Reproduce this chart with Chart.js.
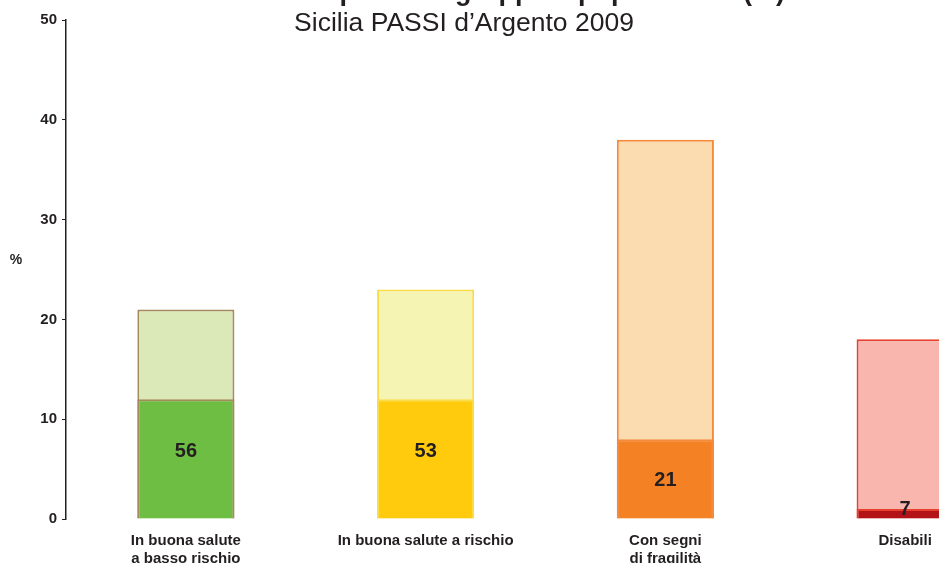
<!DOCTYPE html>
<html>
<head>
<meta charset="utf-8">
<title>Sicilia PASSI d'Argento 2009</title>
<script src="https://cdn.jsdelivr.net/npm/chart.js@4/dist/chart.umd.min.js"></script>
<style>
    html, body { margin: 0; padding: 0; background: #fff; }
    body { width: 939px; height: 563px; overflow: hidden; position: relative; }
    #wrap { position: absolute; left: 0; top: 0; width: 1040px; height: 563px; }
</style>
</head>
<body>
<div id="wrap"><canvas id="chart" width="1040" height="563"></canvas></div>
<script>
/* --- Données --- */
const categories = [
    ['In buona salute', 'a basso rischio'],
    'In buona salute a rischio',
    ['Con segni', 'di fragilità'],
    'Disabili'
];
const totalPct = [21, 23, 38, 18];     // barre claire (hauteur totale)
const innerPct = [12, 12, 8, 1];       // partie foncée
const innerLabels = ['56', '53', '21', '7'];
const yTicks = [0, 10, 20, 30, 40, 50];

const TITLE = 'Distribuzione per sottogruppi di popolazione (%)';
const SUBTITLE = 'Sicilia PASSI d’Argento 2009';

/* --- Couleurs --- */
const lightColors = ['#dbe9b9', '#f6f4b3', '#fadcb0', '#f8b6ae'];
const darkColors  = ['#6fbe44', '#ffcb0c', '#f48224', '#b31217'];
const borderColors = ['#a48b5d', '#f9dc4a', '#f48a3c', '#e8402e'];
const TEXT = '#231f20';
const FONT = '"Liberation Sans", Arial, Helvetica, sans-serif';

Chart.defaults.font.family = FONT;
Chart.defaults.color = TEXT;

// petit décalage vertical des étiquettes internes (px), comme dans l'original
const labelShift = [-7, -7, 2, -4];

/* --- Titres, "%" et étiquettes internes --- */
const decorations = {
    id: 'decorations',
    afterDatasetsDraw(chart) {
        const ctx = chart.ctx;
        const meta = chart.getDatasetMeta(0);
        ctx.save();
        ctx.fillStyle = TEXT;
        ctx.textAlign = 'center';
        ctx.textBaseline = 'middle';
        ctx.font = 'bold 20px ' + FONT;
        meta.data.forEach((bar, i) => {
            const yc = (bar.y + bar.base) / 2;
            ctx.fillText(innerLabels[i], bar.x, yc + labelShift[i]);
        });
        ctx.restore();
    },
    afterDraw(chart) {
        const ctx = chart.ctx;
        ctx.save();
        ctx.fillStyle = TEXT;
        ctx.textAlign = 'center';
        ctx.textBaseline = 'alphabetic';
        // titre principal coupé en haut : seules les jambages restent visibles
        ctx.font = 'bold 27px ' + FONT;
        ctx.fillText(TITLE, 473, 0);
        ctx.font = '26.5px ' + FONT;
        ctx.fillText(SUBTITLE, 464, 31);
        ctx.font = 'bold 14px ' + FONT;
        ctx.textBaseline = 'middle';
        ctx.fillText('%', 16, 260);
        ctx.restore();
    }
};

new Chart(document.getElementById('chart').getContext('2d'), {
    type: 'bar',
    data: {
        labels: categories,
        datasets: [
            {
                label: 'interno',
                data: innerPct,
                backgroundColor: darkColors,
                borderColor: borderColors,
                borderWidth: 2,
                grouped: false,
                categoryPercentage: 1,
                barPercentage: 0.405
            },
            {
                label: 'totale',
                data: totalPct,
                backgroundColor: lightColors,
                borderColor: borderColors,
                borderWidth: 2,
                grouped: false,
                categoryPercentage: 1,
                barPercentage: 0.405
            }
        ]
    },
    options: {
        responsive: false,
        animation: false,
        layout: { padding: { top: 20, right: 15, left: 0, bottom: 0 } },
        plugins: {
            legend: { display: false },
            tooltip: { enabled: false },
            title: { display: false }
        },
        scales: {
            x: {
                grid: { display: false },
                border: { display: false },
                ticks: {
                    color: TEXT,
                    font: { size: 15, weight: 'bold', lineHeight: 1.2 },
                    padding: 5,
                    maxRotation: 0,
                    autoSkip: false
                },
                afterFit: (s) => { s.height = 44; }
            },
            y: {
                min: 0,
                max: 50,
                afterBuildTicks: (s) => { s.ticks = yTicks.map(v => ({ value: v })); },
                grid: {
                    display: true,
                    drawOnChartArea: false,
                    drawTicks: true,
                    tickLength: 4,
                    color: '#231f20',
                    lineWidth: 1
                },
                border: { display: true, color: '#231f20', width: 1.5 },
                ticks: {
                    color: TEXT,
                    font: { size: 15, weight: 'bold' },
                    padding: 5
                },
                afterFit: (s) => { s.width = 66; }
            }
        }
    },
    plugins: [decorations]
});
</script>
</body>
</html>
